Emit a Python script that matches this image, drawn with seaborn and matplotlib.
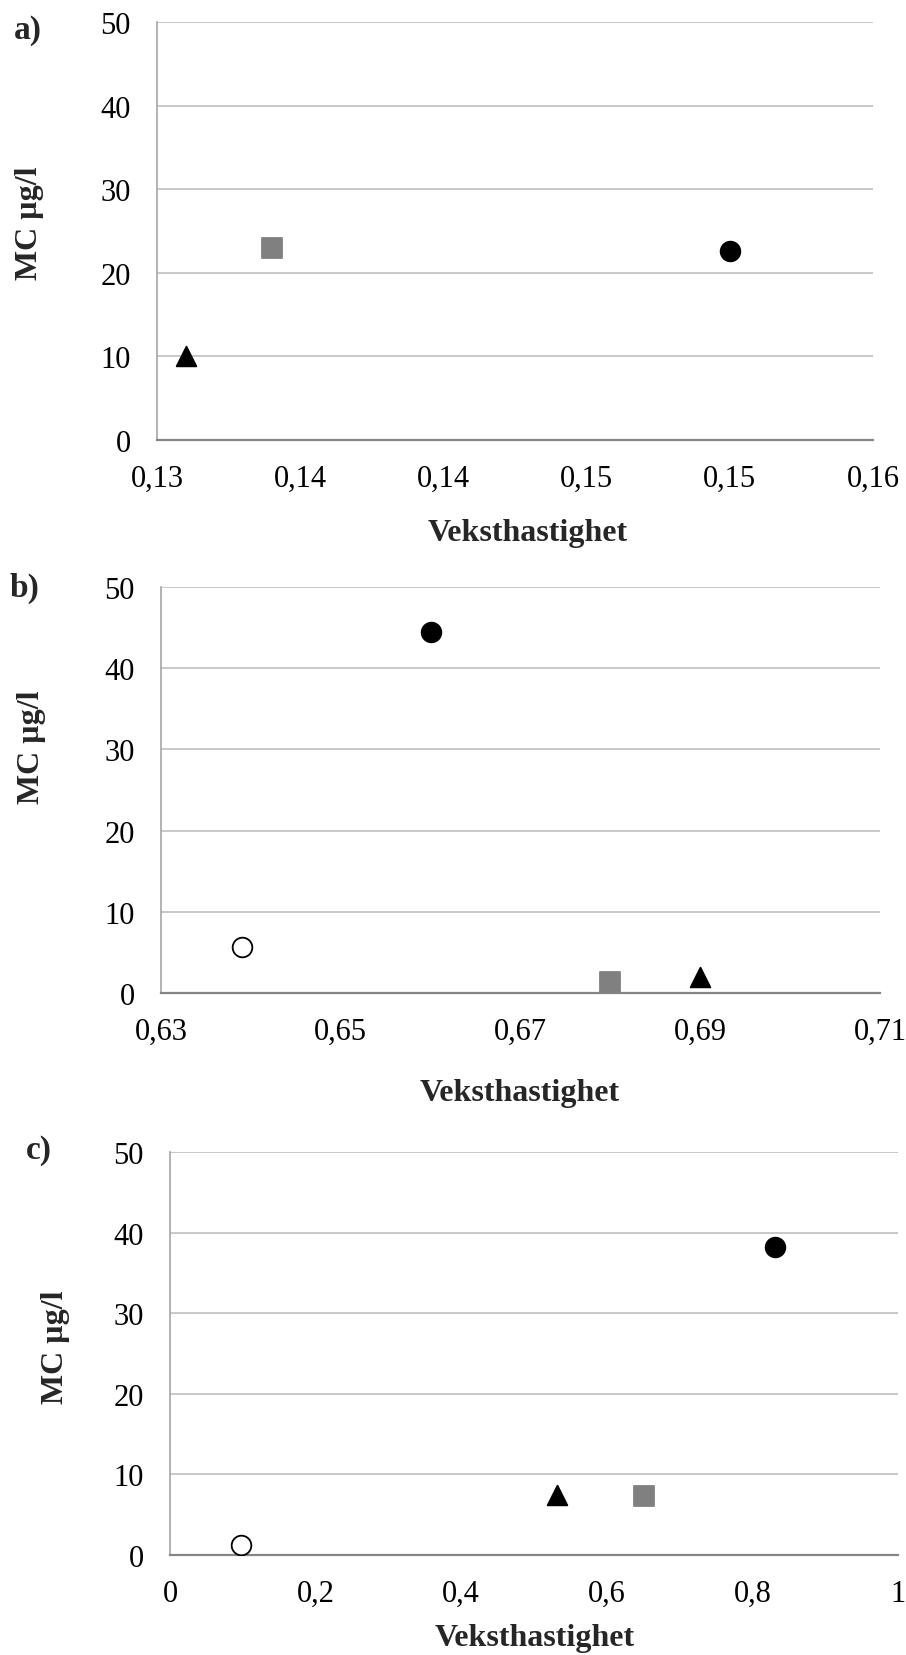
import matplotlib
matplotlib.use("Agg")
import matplotlib.pyplot as plt
import seaborn as sns
import pandas as pd
from matplotlib.ticker import FixedLocator, FuncFormatter

sns.set_theme(style="white")
plt.rcParams["font.family"] = ["Liberation Serif", "DejaVu Serif"]

# Growth rate (Veksthastighet) and microcystin concentration per group
groups = ["sirkel", "kvadrat", "trekant", "aapen"]

a_vekst = [0.1540, 0.1348, 0.1312]
a_mc = [22.6, 23.0, 10.0]
a_groups = ["sirkel", "kvadrat", "trekant"]

b_vekst = [0.660, 0.680, 0.690, 0.639]
b_mc = [44.5, 1.4, 2.0, 5.7]
b_groups = ["sirkel", "kvadrat", "trekant", "aapen"]

c_vekst = [0.831, 0.651, 0.531, 0.098]
c_mc = [38.2, 7.3, 7.4, 1.3]
c_groups = ["sirkel", "kvadrat", "trekant", "aapen"]

a_xticks = [0.13, 0.136, 0.142, 0.148, 0.154, 0.16]
b_xticks = [0.63, 0.65, 0.67, 0.69, 0.71]
c_xticks = [0, 0.2, 0.4, 0.6, 0.8, 1.0]
y_ticks = [0, 10, 20, 30, 40, 50]

styles = {
    "sirkel": dict(marker="o", color="black", edgecolor="black"),
    "kvadrat": dict(marker="s", color="#808080", edgecolor="#808080"),
    "trekant": dict(marker="^", color="black", edgecolor="black"),
    "aapen": dict(marker="o", color="white", edgecolor="black"),
}

W, H = 906, 1656
fig = plt.figure(figsize=(W / 100, H / 100), dpi=100)


def px_axes(left, right, top, bottom):
    return fig.add_axes([left / W, 1 - bottom / H, (right - left) / W, (bottom - top) / H])


def comma2(v, pos):
    return f"{v:.2f}".replace(".", ",")


def commag(v, pos):
    return f"{v:g}".replace(".", ",")


panels = [
    dict(vekst=a_vekst, mc=a_mc, grp=a_groups, xticks=a_xticks, fmt=comma2,
         box=(157, 873, 23, 441), tag="a)", tag_xy=(28, 31),
         ylab_xy=(30, 223), xlab_xy=(528, 534)),
    dict(vekst=b_vekst, mc=b_mc, grp=b_groups, xticks=b_xticks, fmt=comma2,
         box=(161, 880, 588, 994), tag="b)", tag_xy=(24, 588),
         ylab_xy=(32, 747), xlab_xy=(520, 1093)),
    dict(vekst=c_vekst, mc=c_mc, grp=c_groups, xticks=c_xticks, fmt=commag,
         box=(170, 898, 1153, 1556), tag="c)", tag_xy=(39, 1151),
         ylab_xy=(56, 1347), xlab_xy=(535, 1639)),
]

TICK_FS = 22
LABEL_FS = 23
TAG_FS = 24

for p in panels:
    ax = px_axes(*p["box"])
    df = pd.DataFrame({"Veksthastighet": p["vekst"], "MC": p["mc"], "gruppe": p["grp"]})
    for g in groups:
        sub = df[df["gruppe"] == g]
        if sub.empty:
            continue
        st = styles[g]
        sns.scatterplot(data=sub, x="Veksthastighet", y="MC", ax=ax,
                        marker=st["marker"], color=st["color"],
                        edgecolor=st["edgecolor"], linewidth=1.3, s=200,
                        zorder=3, legend=False)
    ax.set_xlim(p["xticks"][0], p["xticks"][-1])
    ax.set_ylim(0, 50)
    ax.xaxis.set_major_locator(FixedLocator(p["xticks"]))
    ax.yaxis.set_major_locator(FixedLocator(y_ticks))
    ax.xaxis.set_major_formatter(FuncFormatter(p["fmt"]))
    ax.yaxis.set_major_formatter(FuncFormatter(commag))
    ax.tick_params(axis="both", length=0, labelsize=TICK_FS, colors="black")
    ax.tick_params(axis="y", pad=19)
    ax.tick_params(axis="x", pad=17)
    ax.yaxis.grid(True, color="#bfbfbf", linewidth=1.2)
    ax.xaxis.grid(False)
    ax.set_axisbelow(True)
    for side in ("top", "right"):
        ax.spines[side].set_visible(False)
    ax.spines["left"].set_color("#a6a6a6")
    ax.spines["left"].set_linewidth(1.2)
    ax.spines["bottom"].set_color("#868686")
    ax.spines["bottom"].set_linewidth(1.6)
    ax.set_xlabel("")
    ax.set_ylabel("")

    fig.text(p["tag_xy"][0] / W, 1 - p["tag_xy"][1] / H, p["tag"], fontsize=TAG_FS,
             fontweight="bold", ha="center", va="center")
    fig.text(p["ylab_xy"][0] / W, 1 - p["ylab_xy"][1] / H, "MC µg/l", fontsize=LABEL_FS,
             fontweight="bold", rotation=90, ha="center", va="center")
    fig.text(p["xlab_xy"][0] / W, 1 - p["xlab_xy"][1] / H, "Veksthastighet", fontsize=LABEL_FS,
             fontweight="bold", ha="center", va="center")

fig.savefig("out.png", dpi=100, facecolor="white")
